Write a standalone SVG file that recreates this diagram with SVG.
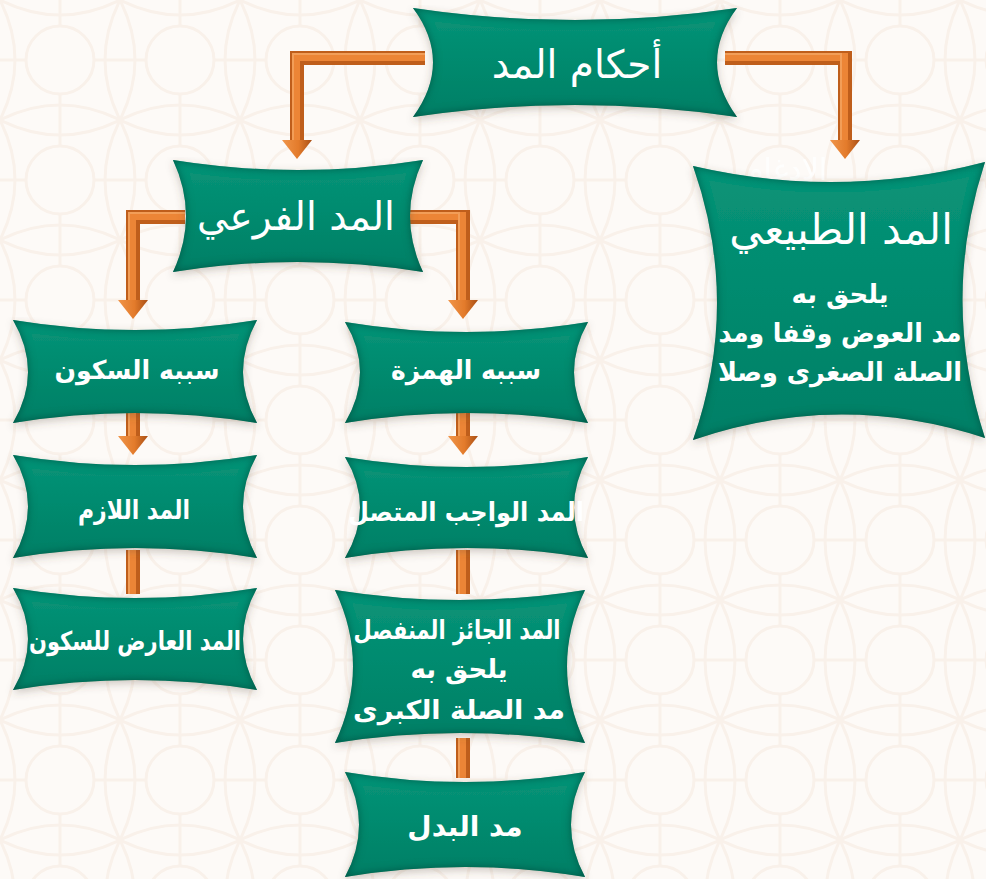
<svg xmlns="http://www.w3.org/2000/svg" width="986" height="879" viewBox="0 0 986 879">
  <defs>
    <style>
      .node { fill: url(#teal); filter: url(#bevel); }
      .title { font-family: "DejaVu Sans", "Noto Sans", sans-serif; font-size: 39px; fill: #ffffff; text-anchor: middle; dominant-baseline: central; }
      .label { font-family: "DejaVu Sans", "Noto Sans", sans-serif; font-weight: bold; font-size: 26px; fill: #ffffff; text-anchor: middle; dominant-baseline: central; }
      .bar-out { fill: none; stroke: #bf5e1b; stroke-width: 14; stroke-linejoin: miter; }
      .bar-in { fill: none; stroke: #ec8536; stroke-width: 8; stroke-linejoin: miter; }
      .bar-hi { fill: none; stroke: #f5a866; stroke-width: 2; stroke-linejoin: miter; opacity: 0.7; }
      .head { fill: url(#orangeHead); }
      .ghost { font-family: "DejaVu Sans", sans-serif; font-size: 30px; fill: #ffffff; text-anchor: middle; }
    </style>
    <linearGradient id="teal" x1="0" y1="0" x2="0" y2="1">
      <stop offset="0" stop-color="#0a9478"/>
      <stop offset="0.5" stop-color="#018a6e"/>
      <stop offset="1" stop-color="#017f66"/>
    </linearGradient>
    <linearGradient id="orangeHead" x1="0" y1="0" x2="1" y2="0">
      <stop offset="0" stop-color="#f0954a"/>
      <stop offset="0.55" stop-color="#e37b2b"/>
      <stop offset="1" stop-color="#a94f15"/>
    </linearGradient>
    <filter id="bevel" x="-5%" y="-5%" width="110%" height="115%">
      <feGaussianBlur in="SourceAlpha" stdDeviation="4" result="blur"/>
      <feComposite in="SourceAlpha" in2="blur" operator="out" result="edge"/>
      <feFlood flood-color="#004a3a" flood-opacity="0.9"/>
      <feComposite in2="edge" operator="in" result="dark"/>
      <feOffset in="blur" dy="3" result="sh"/>
      <feFlood flood-color="#5a4a3a" flood-opacity="0.3"/>
      <feComposite in2="sh" operator="in" result="shadow"/>
      <feMerge>
        <feMergeNode in="shadow"/>
        <feMergeNode in="SourceGraphic"/>
        <feMergeNode in="dark"/>
      </feMerge>
    </filter>
    <pattern id="lattice" width="120" height="120" patternUnits="userSpaceOnUse">
      <g fill="none" stroke="#f9f1ea" stroke-width="3">
        <circle cx="60" cy="60" r="34"/>
        <path d="M0 0 Q60 30 120 0 M0 120 Q60 90 120 120 M0 0 Q30 60 0 120 M120 0 Q90 60 120 120"/>
        <path d="M60 0 L60 26 M60 94 L60 120 M0 60 L26 60 M94 60 L120 60"/>
      </g>
    </pattern>
  </defs>

  <!-- paper background with faint lattice -->
  <rect width="986" height="879" fill="#fdfaf7"/>
  <rect width="986" height="879" fill="url(#lattice)"/>

  <!-- connectors: dark rim, orange core, thin highlight -->
  <g id="connectors">
    <path class="bar-out" d="M425 58 H297 V142 M725 58 H845 V142 M185 217 H133 V302 M410 217 H463 V302 M133 410 V438 M463 410 V438 M133 550 V594 M463 550 V594 M463 738 V778"/>
    <path class="bar-in" d="M425 57 H296 V142 M725 57 H844 V142 M185 216 H132 V302 M410 216 H462 V302 M132 410 V438 M462 410 V438 M132 550 V594 M462 550 V594 M462 738 V778"/>
    <path class="bar-hi" d="M425 54 H293 V142 M725 54 H841 V142 M185 213 H129 V302 M410 213 H459 V302 M129 410 V438 M459 410 V438 M129 550 V594 M459 550 V594 M459 738 V778"/>
    <polygon class="head" points="282,140 312,140 297,159"/>
    <polygon class="head" points="830,140 860,140 845,159"/>
    <polygon class="head" points="118,300 148,300 133,319"/>
    <polygon class="head" points="448,300 478,300 463,319"/>
    <polygon class="head" points="118,436 148,436 133,455"/>
    <polygon class="head" points="448,436 478,436 463,455"/>
  </g>

  <text class="ghost" x="786" y="180" opacity="0.85">الادغام</text>

  <g id="n-ahkam">
    <path class="node" d="M413 8 Q575 32 737 8 Q697 62 737 117 Q575 93 413 117 Q453 62 413 8 Z"/>
    <text class="title" x="577" y="64">أحكام المد</text>
  </g>

  <g id="n-fari">
    <path class="node" d="M173 160 Q298 180 423 160 Q397 216 423 272 Q298 252 173 272 Q199 216 173 160 Z"/>
    <text class="title" x="296" y="216">المد الفرعي</text>
  </g>

  <g id="n-tabii">
    <path class="node" d="M693 166 Q839 200 985 162 Q940 300 985 438 Q839 390 693 440 Q741 303 693 166 Z"/>
    <text class="title" x="841" y="229" style="font-size:42px">المد الطبيعي</text>
    <text class="label" x="840" y="294">يلحق به</text>
    <text class="label" x="840" y="333" textLength="243" lengthAdjust="spacingAndGlyphs">مد العوض وقفا ومد</text>
    <text class="label" x="840" y="372" textLength="244" lengthAdjust="spacingAndGlyphs">الصلة الصغرى وصلا</text>
  </g>

  <g id="n-sukoon">
    <path class="node" d="M13 320 Q135 340 257 320 Q229 372 257 423 Q135 403 13 423 Q43 372 13 320 Z"/>
    <text class="label" x="137" y="370" textLength="165" lengthAdjust="spacingAndGlyphs">سببه السكون</text>
  </g>

  <g id="n-hamza">
    <path class="node" d="M345 322 Q466 342 588 322 Q560 372 588 423 Q466 403 345 423 Q375 372 345 322 Z"/>
    <text class="label" x="466" y="370" textLength="150" lengthAdjust="spacingAndGlyphs">سببه الهمزة</text>
  </g>

  <g id="n-lazim">
    <path class="node" d="M13 455 Q135 475 257 455 Q229 506 257 558 Q135 538 13 558 Q43 506 13 455 Z"/>
    <text class="label" x="134" y="510" textLength="112" lengthAdjust="spacingAndGlyphs">المد اللازم</text>
  </g>

  <g id="n-wajib">
    <path class="node" d="M345 457 Q466 477 588 457 Q560 507 588 558 Q466 538 345 558 Q375 507 345 457 Z"/>
    <text class="label" x="466" y="512" textLength="236" lengthAdjust="spacingAndGlyphs">المد الواجب المتصل</text>
  </g>

  <g id="n-arid">
    <path class="node" d="M13 588 Q135 608 257 588 Q229 639 257 690 Q135 670 13 690 Q43 639 13 588 Z"/>
    <text class="label" x="135" y="641" textLength="212" lengthAdjust="spacingAndGlyphs">المد العارض للسكون</text>
  </g>

  <g id="n-jaiz">
    <path class="node" d="M335 590 Q460 610 585 590 Q549 666 585 743 Q460 723 335 743 Q371 666 335 590 Z"/>
    <text class="label" x="457" y="630" textLength="207" lengthAdjust="spacingAndGlyphs">المد الجائز المنفصل</text>
    <text class="label" x="459" y="669">يلحق به</text>
    <text class="label" x="459" y="710" textLength="212" lengthAdjust="spacingAndGlyphs">مد الصلة الكبرى</text>
  </g>

  <g id="n-badal">
    <path class="node" d="M345 772 Q465 792 585 772 Q557 825 585 877 Q465 857 345 877 Q373 825 345 772 Z"/>
    <text class="label" x="465" y="826" style="font-size:28px">مد البدل</text>
  </g>
</svg>
